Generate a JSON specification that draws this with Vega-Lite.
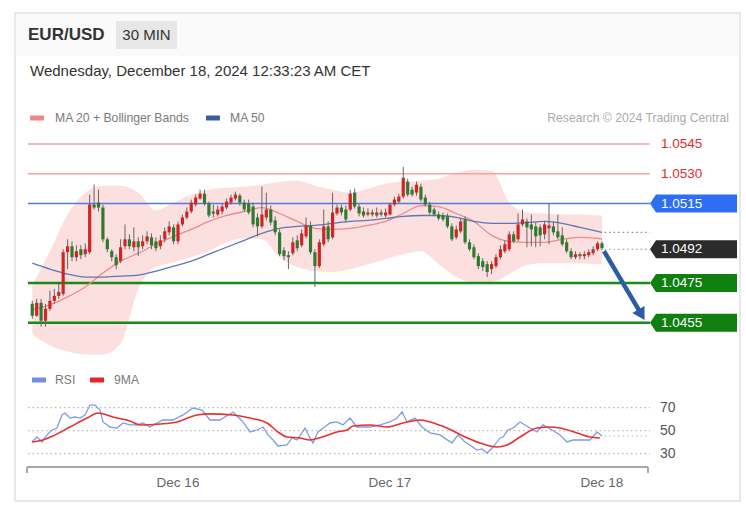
{
"$schema": "https://vega.github.io/schema/vega-lite/v6.json",
"width": 746, "height": 506,
"autosize": {"type": "fit", "contains": "padding"},
"padding": {"left": 15, "top": 13, "right": 6, "bottom": 5},
"background": "#ffffff",
"config": {"view": {"stroke": "#e1e1e1", "strokeWidth": 1.5}, "font": "Liberation Sans", "text": {"font": "Liberation Sans"}, "axis": {"grid": false}, "scale": {"continuousPadding": 0}},
"datasets": {
"candles": [
{"t":-16.5,"o":1.04645,"h":1.0466,"l":1.0457,"c":1.04585},
{"t":-16,"o":1.04585,"h":1.0467,"l":1.0458,"c":1.0465},
{"t":-15.5,"o":1.0465,"h":1.0467,"l":1.0453,"c":1.0456},
{"t":-15,"o":1.0456,"h":1.04645,"l":1.0453,"c":1.0462},
{"t":-14.5,"o":1.0462,"h":1.0471,"l":1.0461,"c":1.0466},
{"t":-14,"o":1.0466,"h":1.0472,"l":1.04645,"c":1.04685},
{"t":-13.5,"o":1.04685,"h":1.04745,"l":1.0467,"c":1.04705},
{"t":-13,"o":1.04695,"h":1.0492,"l":1.04685,"c":1.04905},
{"t":-12.5,"o":1.04905,"h":1.0497,"l":1.0482,"c":1.04935},
{"t":-12,"o":1.04935,"h":1.0496,"l":1.0486,"c":1.0488},
{"t":-11.5,"o":1.0488,"h":1.0494,"l":1.0486,"c":1.0491},
{"t":-11,"o":1.0492,"h":1.0494,"l":1.0487,"c":1.0489},
{"t":-10.5,"o":1.04895,"h":1.0495,"l":1.0488,"c":1.0492},
{"t":-10,"o":1.04905,"h":1.05195,"l":1.04895,"c":1.05145},
{"t":-9.5,"o":1.05145,"h":1.05245,"l":1.0512,"c":1.0513},
{"t":-9,"o":1.05155,"h":1.0522,"l":1.0511,"c":1.0513},
{"t":-8.5,"o":1.0513,"h":1.05145,"l":1.04955,"c":1.0497},
{"t":-8,"o":1.0497,"h":1.0498,"l":1.04905,"c":1.0492},
{"t":-7.5,"o":1.0491,"h":1.0492,"l":1.0486,"c":1.0488},
{"t":-7,"o":1.0488,"h":1.04895,"l":1.0482,"c":1.0484},
{"t":-6.5,"o":1.0486,"h":1.0497,"l":1.0485,"c":1.0493},
{"t":-6,"o":1.04935,"h":1.05045,"l":1.0492,"c":1.0497},
{"t":-5.5,"o":1.0497,"h":1.04995,"l":1.0492,"c":1.04935},
{"t":-5,"o":1.0493,"h":1.0503,"l":1.0491,"c":1.0496},
{"t":-4.5,"o":1.0496,"h":1.0498,"l":1.04885,"c":1.0493},
{"t":-4,"o":1.04935,"h":1.0499,"l":1.0492,"c":1.0496},
{"t":-3.5,"o":1.0496,"h":1.0501,"l":1.04945,"c":1.04985},
{"t":-3,"o":1.0498,"h":1.05,"l":1.0492,"c":1.0494},
{"t":-2.5,"o":1.0496,"h":1.0498,"l":1.0491,"c":1.04925},
{"t":-2,"o":1.04935,"h":1.0499,"l":1.0492,"c":1.04965},
{"t":-1.5,"o":1.0497,"h":1.0503,"l":1.04955,"c":1.0501},
{"t":-1,"o":1.05005,"h":1.0506,"l":1.0499,"c":1.05035},
{"t":-0.5,"o":1.0503,"h":1.05045,"l":1.04945,"c":1.0496},
{"t":0,"o":1.0496,"h":1.0506,"l":1.04945,"c":1.05045},
{"t":0.5,"o":1.05045,"h":1.05095,"l":1.05035,"c":1.0508},
{"t":1,"o":1.0508,"h":1.0513,"l":1.0507,"c":1.0511},
{"t":1.5,"o":1.0511,"h":1.0517,"l":1.051,"c":1.05155},
{"t":2,"o":1.05145,"h":1.05195,"l":1.05135,"c":1.0518},
{"t":2.5,"o":1.05175,"h":1.0522,"l":1.0517,"c":1.052},
{"t":3,"o":1.052,"h":1.0522,"l":1.0514,"c":1.0515},
{"t":3.5,"o":1.0515,"h":1.0516,"l":1.0508,"c":1.0509},
{"t":4,"o":1.0511,"h":1.05145,"l":1.0508,"c":1.051},
{"t":4.5,"o":1.05095,"h":1.0514,"l":1.05085,"c":1.0512},
{"t":5,"o":1.0511,"h":1.0515,"l":1.05095,"c":1.05135},
{"t":5.5,"o":1.0513,"h":1.05175,"l":1.0512,"c":1.0516},
{"t":6,"o":1.05155,"h":1.05195,"l":1.05145,"c":1.0518},
{"t":6.5,"o":1.05175,"h":1.0521,"l":1.05165,"c":1.05195},
{"t":7,"o":1.0519,"h":1.052,"l":1.0514,"c":1.05155},
{"t":7.5,"o":1.05155,"h":1.0517,"l":1.0511,"c":1.0512},
{"t":8,"o":1.0515,"h":1.0517,"l":1.05095,"c":1.05105},
{"t":8.5,"o":1.05135,"h":1.05155,"l":1.0503,"c":1.05045},
{"t":9,"o":1.0508,"h":1.051,"l":1.04985,"c":1.05035},
{"t":9.5,"o":1.05035,"h":1.05235,"l":1.05025,"c":1.05095},
{"t":10,"o":1.0508,"h":1.05205,"l":1.05065,"c":1.0512},
{"t":10.5,"o":1.0512,"h":1.0514,"l":1.0504,"c":1.05055},
{"t":11,"o":1.05065,"h":1.05085,"l":1.0499,"c":1.05005},
{"t":11.5,"o":1.05005,"h":1.0502,"l":1.04885,"c":1.04895},
{"t":12,"o":1.04915,"h":1.0493,"l":1.04865,"c":1.04885},
{"t":12.5,"o":1.0489,"h":1.0491,"l":1.0482,"c":1.0488},
{"t":13,"o":1.049,"h":1.0498,"l":1.0489,"c":1.04955},
{"t":13.5,"o":1.04965,"h":1.0499,"l":1.0491,"c":1.04925},
{"t":14,"o":1.0494,"h":1.0502,"l":1.0493,"c":1.05},
{"t":14.5,"o":1.04985,"h":1.0508,"l":1.04975,"c":1.0504},
{"t":15,"o":1.0504,"h":1.0506,"l":1.04895,"c":1.04905},
{"t":15.5,"o":1.04905,"h":1.0492,"l":1.0473,"c":1.04835},
{"t":16,"o":1.04835,"h":1.0497,"l":1.04825,"c":1.04955},
{"t":16.5,"o":1.04945,"h":1.0512,"l":1.04935,"c":1.05035},
{"t":17,"o":1.05035,"h":1.0506,"l":1.04955,"c":1.0497},
{"t":17.5,"o":1.0498,"h":1.05205,"l":1.0497,"c":1.05105},
{"t":18,"o":1.051,"h":1.05145,"l":1.0509,"c":1.0513},
{"t":18.5,"o":1.0513,"h":1.05145,"l":1.0509,"c":1.05105},
{"t":19,"o":1.0512,"h":1.0514,"l":1.05055,"c":1.0507},
{"t":19.5,"o":1.0512,"h":1.0522,"l":1.0511,"c":1.052},
{"t":20,"o":1.05205,"h":1.05225,"l":1.05125,"c":1.05135},
{"t":20.5,"o":1.05135,"h":1.0515,"l":1.05085,"c":1.051},
{"t":21,"o":1.0511,"h":1.0513,"l":1.0508,"c":1.0509},
{"t":21.5,"o":1.05095,"h":1.05125,"l":1.05085,"c":1.05105},
{"t":22,"o":1.05105,"h":1.0512,"l":1.05085,"c":1.05095},
{"t":22.5,"o":1.0509,"h":1.0513,"l":1.0508,"c":1.05105},
{"t":23,"o":1.05105,"h":1.0512,"l":1.05085,"c":1.05095},
{"t":23.5,"o":1.0509,"h":1.05125,"l":1.0508,"c":1.05105},
{"t":24,"o":1.05095,"h":1.05155,"l":1.0509,"c":1.05145},
{"t":24.5,"o":1.05145,"h":1.05185,"l":1.05135,"c":1.0517},
{"t":25,"o":1.0516,"h":1.052,"l":1.0515,"c":1.05185},
{"t":25.5,"o":1.05185,"h":1.05335,"l":1.05175,"c":1.0528},
{"t":26,"o":1.0526,"h":1.05275,"l":1.05185,"c":1.05195},
{"t":26.5,"o":1.0522,"h":1.05235,"l":1.05185,"c":1.05195},
{"t":27,"o":1.05205,"h":1.0526,"l":1.0519,"c":1.05245},
{"t":27.5,"o":1.05235,"h":1.0525,"l":1.0516,"c":1.0517},
{"t":28,"o":1.0518,"h":1.05195,"l":1.05135,"c":1.05145},
{"t":28.5,"o":1.05145,"h":1.0516,"l":1.05095,"c":1.05105},
{"t":29,"o":1.0512,"h":1.0513,"l":1.05085,"c":1.05095},
{"t":29.5,"o":1.05095,"h":1.0511,"l":1.05065,"c":1.05075},
{"t":30,"o":1.0509,"h":1.05105,"l":1.0506,"c":1.0507},
{"t":30.5,"o":1.05085,"h":1.051,"l":1.05025,"c":1.05035},
{"t":31,"o":1.05035,"h":1.0505,"l":1.0496,"c":1.0497},
{"t":31.5,"o":1.0498,"h":1.0504,"l":1.0497,"c":1.0502},
{"t":32,"o":1.0501,"h":1.05075,"l":1.05,"c":1.0506},
{"t":32.5,"o":1.0507,"h":1.05085,"l":1.04945,"c":1.04955},
{"t":33,"o":1.04955,"h":1.0497,"l":1.0491,"c":1.0492},
{"t":33.5,"o":1.0493,"h":1.04945,"l":1.0487,"c":1.0488},
{"t":34,"o":1.04885,"h":1.049,"l":1.0482,"c":1.04835},
{"t":34.5,"o":1.0486,"h":1.04875,"l":1.0481,"c":1.0483},
{"t":35,"o":1.04845,"h":1.0486,"l":1.0478,"c":1.04805},
{"t":35.5,"o":1.0482,"h":1.0486,"l":1.04795,"c":1.04845},
{"t":36,"o":1.04835,"h":1.04895,"l":1.04825,"c":1.0488},
{"t":36.5,"o":1.0488,"h":1.0494,"l":1.0487,"c":1.0492},
{"t":37,"o":1.0491,"h":1.04965,"l":1.049,"c":1.04945},
{"t":37.5,"o":1.0492,"h":1.0501,"l":1.0491,"c":1.04995},
{"t":38,"o":1.04995,"h":1.0501,"l":1.0495,"c":1.0496},
{"t":38.5,"o":1.0497,"h":1.051,"l":1.0496,"c":1.05045},
{"t":39,"o":1.05045,"h":1.0512,"l":1.05035,"c":1.0507},
{"t":39.5,"o":1.0506,"h":1.05075,"l":1.0493,"c":1.0503},
{"t":40,"o":1.05045,"h":1.05095,"l":1.04935,"c":1.0502},
{"t":40.5,"o":1.05035,"h":1.05055,"l":1.0493,"c":1.04985},
{"t":41,"o":1.0503,"h":1.05045,"l":1.04935,"c":1.0499},
{"t":41.5,"o":1.04995,"h":1.0506,"l":1.0497,"c":1.05045},
{"t":42,"o":1.05025,"h":1.0515,"l":1.04945,"c":1.0504},
{"t":42.5,"o":1.05035,"h":1.0506,"l":1.0499,"c":1.05005},
{"t":43,"o":1.0501,"h":1.05095,"l":1.0497,"c":1.0498},
{"t":43.5,"o":1.0499,"h":1.0503,"l":1.04935,"c":1.04945},
{"t":44,"o":1.04955,"h":1.0497,"l":1.049,"c":1.0491},
{"t":44.5,"o":1.0491,"h":1.04925,"l":1.0487,"c":1.0488},
{"t":45,"o":1.0488,"h":1.0491,"l":1.0487,"c":1.04895},
{"t":45.5,"o":1.04895,"h":1.04905,"l":1.0487,"c":1.04885},
{"t":46,"o":1.04885,"h":1.0491,"l":1.0487,"c":1.04895},
{"t":46.5,"o":1.0489,"h":1.0492,"l":1.0488,"c":1.04905},
{"t":47,"o":1.049,"h":1.04935,"l":1.0489,"c":1.0492},
{"t":47.5,"o":1.0492,"h":1.0496,"l":1.0491,"c":1.0495},
{"t":48,"o":1.0495,"h":1.0496,"l":1.04915,"c":1.04925}
],
"bands": [
{"t":-16.5,"up":1.0474,"lo":1.0449,"m20":1.04615,"m50":1.0485},
{"t":-14.5,"up":1.0491,"lo":1.04435,"m20":1.0464,"m50":1.0482},
{"t":-12.5,"up":1.05095,"lo":1.04405,"m20":1.0468,"m50":1.04795},
{"t":-10.5,"up":1.05205,"lo":1.0439,"m20":1.0473,"m50":1.0478},
{"t":-8.5,"up":1.0524,"lo":1.0439,"m20":1.048,"m50":1.0478},
{"t":-6.5,"up":1.0524,"lo":1.04445,"m20":1.0486,"m50":1.04785},
{"t":-4.5,"up":1.05205,"lo":1.0472,"m20":1.049,"m50":1.0479},
{"t":-2.5,"up":1.05115,"lo":1.0483,"m20":1.04945,"m50":1.0481},
{"t":-0.5,"up":1.05155,"lo":1.04855,"m20":1.04985,"m50":1.04835},
{"t":1.5,"up":1.05195,"lo":1.0488,"m20":1.0502,"m50":1.0486},
{"t":3.5,"up":1.0522,"lo":1.0491,"m20":1.0506,"m50":1.04895},
{"t":5.5,"up":1.0523,"lo":1.04955,"m20":1.0509,"m50":1.0493},
{"t":7.5,"up":1.05235,"lo":1.04975,"m20":1.0511,"m50":1.04965},
{"t":9.5,"up":1.05245,"lo":1.0497,"m20":1.0513,"m50":1.05},
{"t":11.5,"up":1.0526,"lo":1.0488,"m20":1.051,"m50":1.05025},
{"t":13.5,"up":1.05265,"lo":1.0483,"m20":1.0506,"m50":1.05035},
{"t":15.5,"up":1.0524,"lo":1.0481,"m20":1.05025,"m50":1.0504},
{"t":17.5,"up":1.0522,"lo":1.04805,"m20":1.0502,"m50":1.0505},
{"t":19.5,"up":1.05205,"lo":1.0482,"m20":1.05025,"m50":1.0506},
{"t":21.5,"up":1.05225,"lo":1.04845,"m20":1.0504,"m50":1.05065},
{"t":23.5,"up":1.0525,"lo":1.0487,"m20":1.0506,"m50":1.05075},
{"t":25.5,"up":1.0526,"lo":1.04895,"m20":1.051,"m50":1.05085},
{"t":27.5,"up":1.05265,"lo":1.0491,"m20":1.0514,"m50":1.0509},
{"t":29.5,"up":1.05275,"lo":1.04845,"m20":1.05135,"m50":1.0509},
{"t":31.5,"up":1.05305,"lo":1.0478,"m20":1.051,"m50":1.0508},
{"t":33.5,"up":1.0532,"lo":1.04755,"m20":1.0506,"m50":1.0506},
{"t":35.5,"up":1.05315,"lo":1.04755,"m20":1.0499,"m50":1.0505},
{"t":37.5,"up":1.05155,"lo":1.04795,"m20":1.0496,"m50":1.0505},
{"t":39.5,"up":1.05105,"lo":1.0484,"m20":1.04955,"m50":1.05055},
{"t":41.5,"up":1.051,"lo":1.0485,"m20":1.04955,"m50":1.0506},
{"t":43.5,"up":1.05095,"lo":1.0485,"m20":1.0497,"m50":1.0505},
{"t":45.5,"up":1.05095,"lo":1.0485,"m20":1.0498,"m50":1.0503},
{"t":47.5,"up":1.0509,"lo":1.04845,"m20":1.04975,"m50":1.0501},
{"t":48,"up":1.0509,"lo":1.04845,"m20":1.0497,"m50":1.05005}
],
"levels": [
{"level":1.0545,"label":"1.0545","role":"resistance"},
{"level":1.053,"label":"1.0530","role":"resistance"},
{"level":1.0515,"label":"1.0515","role":"pivot"},
{"level":1.0492,"label":"1.0492","role":"last"},
{"level":1.0475,"label":"1.0475","role":"support"},
{"level":1.0455,"label":"1.0455","role":"support"}
],
"rsi": [
{"t":-16.53,"v":40.2},{"t":-15.96,"v":44.5},{"t":-15.4,"v":40.2},{"t":-14.83,"v":46.3},{"t":-14.27,"v":50.6},
{"t":-13.7,"v":52.3},{"t":-13.13,"v":63.7},{"t":-12.79,"v":65.4},{"t":-12.23,"v":61.0},{"t":-11.66,"v":61.9},
{"t":-11.09,"v":61.0},{"t":-10.53,"v":63.7},{"t":-9.96,"v":72.3},{"t":-9.4,"v":72.3},{"t":-8.83,"v":68.0},
{"t":-8.49,"v":57.6},{"t":-7.7,"v":53.2},{"t":-6.91,"v":52.3},{"t":-6.23,"v":56.7},{"t":-5.43,"v":55.0},
{"t":-4.64,"v":55.0},{"t":-3.96,"v":56.7},{"t":-3.17,"v":53.2},{"t":-2.38,"v":56.7},{"t":-1.7,"v":59.3},
{"t":-0.57,"v":59.3},{"t":0.57,"v":63.7},{"t":1.7,"v":69.7},{"t":2.72,"v":68.0},{"t":3.62,"v":59.3},
{"t":4.75,"v":59.3},{"t":6.23,"v":66.3},{"t":7.36,"v":57.6},{"t":8.15,"v":48.9},{"t":8.94,"v":50.6},
{"t":9.62,"v":53.2},{"t":10.19,"v":46.3},{"t":10.76,"v":41.9},{"t":11.32,"v":36.7},{"t":12.34,"v":37.6},
{"t":12.91,"v":43.7},{"t":13.47,"v":41.9},{"t":14.38,"v":52.3},{"t":14.94,"v":43.7},{"t":15.28,"v":39.3},
{"t":15.85,"v":48.9},{"t":16.42,"v":52.3},{"t":17.21,"v":56.7},{"t":18.0,"v":57.6},{"t":18.68,"v":55.0},
{"t":19.47,"v":61.0},{"t":20.26,"v":53.2},{"t":21.74,"v":53.2},{"t":22.87,"v":55.0},{"t":24.0,"v":57.6},
{"t":24.79,"v":61.0},{"t":25.36,"v":66.3},{"t":25.93,"v":57.6},{"t":26.83,"v":61.0},{"t":27.62,"v":53.2},
{"t":28.53,"v":48.0},{"t":29.66,"v":46.3},{"t":31.02,"v":39.3},{"t":31.7,"v":46.3},{"t":32.49,"v":40.2},
{"t":33.06,"v":37.6},{"t":33.85,"v":33.2},{"t":34.42,"v":34.1},{"t":34.98,"v":30.6},{"t":35.66,"v":35.8},
{"t":36.45,"v":43.7},{"t":36.79,"v":44.5},{"t":37.36,"v":50.6},{"t":37.93,"v":52.3},{"t":38.72,"v":57.6},
{"t":39.28,"v":55.0},{"t":39.85,"v":52.3},{"t":40.64,"v":48.9},{"t":41.32,"v":55.0},{"t":42.34,"v":50.6},
{"t":43.25,"v":46.3},{"t":44.04,"v":40.2},{"t":44.72,"v":41.9},{"t":45.85,"v":41.9},{"t":46.64,"v":41.9},
{"t":47.43,"v":48.9},{"t":48.0,"v":45.4}
],
"ma9": [
{"t":-16.53,"v":40.2},{"t":-15.28,"v":41.9},{"t":-14.15,"v":45.4},{"t":-12.23,"v":53.2},{"t":-10.3,"v":61.0},
{"t":-9.06,"v":65.4},{"t":-7.36,"v":61.9},{"t":-5.43,"v":58.4},{"t":-4.3,"v":55.0},{"t":-2.04,"v":55.8},
{"t":-0.11,"v":57.6},{"t":2.15,"v":63.7},{"t":3.62,"v":64.6},{"t":6.23,"v":63.7},{"t":8.15,"v":61.0},
{"t":10.08,"v":56.7},{"t":11.32,"v":48.9},{"t":12.34,"v":44.5},{"t":13.81,"v":43.7},{"t":14.94,"v":41.9},
{"t":16.3,"v":44.5},{"t":18.0,"v":48.9},{"t":19.13,"v":50.6},{"t":19.81,"v":54.1},{"t":21.74,"v":55.0},
{"t":23.66,"v":53.2},{"t":25.47,"v":56.7},{"t":27.4,"v":59.3},{"t":28.53,"v":57.6},{"t":30.45,"v":52.3},
{"t":32.26,"v":45.4},{"t":34.19,"v":39.3},{"t":36.11,"v":35.8},{"t":37.25,"v":37.6},{"t":38.72,"v":44.5},
{"t":40.64,"v":52.3},{"t":42.11,"v":53.2},{"t":43.25,"v":52.3},{"t":45.17,"v":48.0},{"t":46.64,"v":44.5},
{"t":47.77,"v":43.7}
],
"rsiLevels": [{"r":70},{"r":50},{"r":30}],
"days": [{"t":0,"d":"Dec 16"},{"t":24,"d":"Dec 17"},{"t":48,"d":"Dec 18"}]
},
"resolve": {"scale": {"y": "independent"}},
"layer": [
{
"layer": [
{"data": {"values": [{}]}, "mark": {"type": "rect", "color": "#fafafa"},
 "encoding": {"x": {"datum": -18.35, "type": "quantitative", "scale": {"domain": [-18.453, 63.623], "nice": false, "zero": false, "padding": 0}, "axis": null}, "x2": {"datum": 63.52},
  "y": {"datum": 1.06105, "type": "quantitative", "scale": {"domain": [1.036521, 1.061097], "nice": false, "zero": false}, "axis": null}, "y2": {"datum": 1.05893}}},
{"data": {"values": [{}]}, "mark": {"type": "text", "align": "left", "baseline": "middle", "fontSize": 17, "fontWeight": "bold", "color": "#333333"},
 "encoding": {"x": {"datum": -16.98, "type": "quantitative", "scale": {"domain": [-18.453, 63.623], "nice": false, "zero": false, "padding": 0}, "axis": null},
  "y": {"datum": 1.05999, "type": "quantitative", "scale": {"domain": [1.036521, 1.061097], "nice": false, "zero": false}, "axis": null}, "text": {"value": "EUR/USD"}}},
{"data": {"values": [{}]}, "mark": {"type": "rect", "color": "#e7e7e7"},
 "encoding": {"x": {"datum": -7.02, "type": "quantitative", "scale": {"domain": [-18.453, 63.623], "nice": false, "zero": false, "padding": 0}, "axis": null}, "x2": {"datum": -0.11},
  "y": {"datum": 1.060694, "type": "quantitative", "scale": {"domain": [1.036521, 1.061097], "nice": false, "zero": false}, "axis": null}, "y2": {"datum": 1.059284}}},
{"data": {"values": [{}]}, "mark": {"type": "text", "align": "center", "baseline": "middle", "fontSize": 15, "color": "#333333"},
 "encoding": {"x": {"datum": -3.57, "type": "quantitative", "scale": {"domain": [-18.453, 63.623], "nice": false, "zero": false, "padding": 0}, "axis": null},
  "y": {"datum": 1.05999, "type": "quantitative", "scale": {"domain": [1.036521, 1.061097], "nice": false, "zero": false}, "axis": null}, "text": {"value": "30 MIN"}}},
{"data": {"values": [{}]}, "mark": {"type": "text", "align": "left", "baseline": "middle", "fontSize": 15, "color": "#333333"},
 "encoding": {"x": {"datum": -16.75, "type": "quantitative", "scale": {"domain": [-18.453, 63.623], "nice": false, "zero": false, "padding": 0}, "axis": null},
  "y": {"datum": 1.058176, "type": "quantitative", "scale": {"domain": [1.036521, 1.061097], "nice": false, "zero": false}, "axis": null}, "text": {"value": "Wednesday, December 18, 2024 12:33:23 AM CET"}}},
{"data": {"values": [{}]}, "mark": {"type": "rule", "color": "#f28585", "strokeWidth": 5},
 "encoding": {"x": {"datum": -16.75, "type": "quantitative", "scale": {"domain": [-18.453, 63.623], "nice": false, "zero": false, "padding": 0}, "axis": null}, "x2": {"datum": -15.17},
  "y": {"datum": 1.055809, "type": "quantitative", "scale": {"domain": [1.036521, 1.061097], "nice": false, "zero": false}, "axis": null}}},
{"data": {"values": [{}]}, "mark": {"type": "text", "align": "left", "baseline": "middle", "fontSize": 12.2, "color": "#7a7a7a"},
 "encoding": {"x": {"datum": -13.92, "type": "quantitative", "scale": {"domain": [-18.453, 63.623], "nice": false, "zero": false, "padding": 0}, "axis": null},
  "y": {"datum": 1.055809, "type": "quantitative", "scale": {"domain": [1.036521, 1.061097], "nice": false, "zero": false}, "axis": null}, "text": {"value": "MA 20 + Bollinger Bands"}}},
{"data": {"values": [{}]}, "mark": {"type": "rule", "color": "#3a5da3", "strokeWidth": 5},
 "encoding": {"x": {"datum": 3.17, "type": "quantitative", "scale": {"domain": [-18.453, 63.623], "nice": false, "zero": false, "padding": 0}, "axis": null}, "x2": {"datum": 4.75},
  "y": {"datum": 1.055809, "type": "quantitative", "scale": {"domain": [1.036521, 1.061097], "nice": false, "zero": false}, "axis": null}}},
{"data": {"values": [{}]}, "mark": {"type": "text", "align": "left", "baseline": "middle", "fontSize": 12.2, "color": "#7a7a7a"},
 "encoding": {"x": {"datum": 5.89, "type": "quantitative", "scale": {"domain": [-18.453, 63.623], "nice": false, "zero": false, "padding": 0}, "axis": null},
  "y": {"datum": 1.055809, "type": "quantitative", "scale": {"domain": [1.036521, 1.061097], "nice": false, "zero": false}, "axis": null}, "text": {"value": "MA 50"}}},
{"data": {"values": [{}]}, "mark": {"type": "text", "align": "right", "baseline": "middle", "fontSize": 12.2, "color": "#ababab"},
 "encoding": {"x": {"datum": 62.38, "type": "quantitative", "scale": {"domain": [-18.453, 63.623], "nice": false, "zero": false, "padding": 0}, "axis": null},
  "y": {"datum": 1.055809, "type": "quantitative", "scale": {"domain": [1.036521, 1.061097], "nice": false, "zero": false}, "axis": null}, "text": {"value": "Research © 2024 Trading Central"}}},
{"data": {"name": "bands"}, "mark": {"type": "area", "interpolate": "monotone", "color": "#fcd9d9", "opacity": 0.85},
 "encoding": {"x": {"field": "t", "type": "quantitative", "scale": {"domain": [-18.453, 63.623], "nice": false, "zero": false, "padding": 0}, "axis": null},
  "y": {"field": "up", "type": "quantitative", "scale": {"domain": [1.036521, 1.061097], "nice": false, "zero": false}, "axis": null}, "y2": {"field": "lo"}}},
{"data": {"name": "levels"}, "transform": [{"filter": "datum.role == 'resistance'"}], "mark": {"type": "rule", "color": "#f5a3a3", "strokeWidth": 1.5},
 "encoding": {"x": {"datum": -16.98, "type": "quantitative", "scale": {"domain": [-18.453, 63.623], "nice": false, "zero": false, "padding": 0}, "axis": null}, "x2": {"datum": 53.43},
  "y": {"field": "level", "type": "quantitative", "scale": {"domain": [1.036521, 1.061097], "nice": false, "zero": false}, "axis": null}}},
{"data": {"name": "levels"}, "transform": [{"filter": "datum.role == 'pivot'"}], "mark": {"type": "rule", "color": "#4d7de6", "strokeWidth": 1.5},
 "encoding": {"x": {"datum": -16.98, "type": "quantitative", "scale": {"domain": [-18.453, 63.623], "nice": false, "zero": false, "padding": 0}, "axis": null}, "x2": {"datum": 53.43},
  "y": {"field": "level", "type": "quantitative", "scale": {"domain": [1.036521, 1.061097], "nice": false, "zero": false}, "axis": null}}},
{"data": {"name": "levels"}, "transform": [{"filter": "datum.role == 'support'"}], "mark": {"type": "rule", "color": "#178a17", "strokeWidth": 2.5},
 "encoding": {"x": {"datum": -16.98, "type": "quantitative", "scale": {"domain": [-18.453, 63.623], "nice": false, "zero": false, "padding": 0}, "axis": null}, "x2": {"datum": 53.43},
  "y": {"field": "level", "type": "quantitative", "scale": {"domain": [1.036521, 1.061097], "nice": false, "zero": false}, "axis": null}}},
{"data": {"name": "levels"}, "transform": [{"filter": "datum.role == 'last'"}], "mark": {"type": "rule", "color": "#8a8a8a", "strokeWidth": 1.2, "strokeDash": [1.5, 3]},
 "encoding": {"x": {"datum": 48.3, "type": "quantitative", "scale": {"domain": [-18.453, 63.623], "nice": false, "zero": false, "padding": 0}, "axis": null}, "x2": {"datum": 53.43},
  "y": {"field": "level", "type": "quantitative", "scale": {"domain": [1.036521, 1.061097], "nice": false, "zero": false}, "axis": null}}},
{"data": {"values": [{}]}, "mark": {"type": "rule", "color": "#8a8a8a", "strokeWidth": 1.2, "strokeDash": [1.5, 3]},
 "encoding": {"x": {"datum": 48.3, "type": "quantitative", "scale": {"domain": [-18.453, 63.623], "nice": false, "zero": false, "padding": 0}, "axis": null}, "x2": {"datum": 53.43},
  "y": {"datum": 1.05005, "type": "quantitative", "scale": {"domain": [1.036521, 1.061097], "nice": false, "zero": false}, "axis": null}}},
{"data": {"name": "bands"}, "mark": {"type": "line", "interpolate": "monotone", "color": "#f08a8a", "strokeWidth": 1.3},
 "encoding": {"x": {"field": "t", "type": "quantitative", "scale": {"domain": [-18.453, 63.623], "nice": false, "zero": false, "padding": 0}, "axis": null},
  "y": {"field": "m20", "type": "quantitative", "scale": {"domain": [1.036521, 1.061097], "nice": false, "zero": false}, "axis": null}}},
{"data": {"name": "bands"}, "mark": {"type": "line", "interpolate": "monotone", "color": "#5b78b5", "strokeWidth": 1.3},
 "encoding": {"x": {"field": "t", "type": "quantitative", "scale": {"domain": [-18.453, 63.623], "nice": false, "zero": false, "padding": 0}, "axis": null},
  "y": {"field": "m50", "type": "quantitative", "scale": {"domain": [1.036521, 1.061097], "nice": false, "zero": false}, "axis": null}}},
{"data": {"name": "candles"}, "mark": {"type": "rule", "color": "#666666", "strokeWidth": 1},
 "encoding": {"x": {"field": "t", "type": "quantitative", "scale": {"domain": [-18.453, 63.623], "nice": false, "zero": false, "padding": 0}, "axis": null},
  "y": {"field": "l", "type": "quantitative", "scale": {"domain": [1.036521, 1.061097], "nice": false, "zero": false}, "axis": null}, "y2": {"field": "h"}}},
{"data": {"name": "candles"}, "mark": {"type": "bar", "width": 3.2},
 "encoding": {"x": {"field": "t", "type": "quantitative", "scale": {"domain": [-18.453, 63.623], "nice": false, "zero": false, "padding": 0}, "axis": null},
  "y": {"field": "o", "type": "quantitative", "scale": {"domain": [1.036521, 1.061097], "nice": false, "zero": false}, "axis": null}, "y2": {"field": "c"},
  "color": {"condition": {"test": "datum.c >= datum.o", "value": "#d22424"}, "value": "#2e7b30"}}},
{"data": {"name": "levels"}, "transform": [{"filter": "datum.role != 'resistance'"}],
 "mark": {"type": "point", "shape": "M-1,0L-0.862,-0.207L1,-0.207L1,0.207L-0.862,0.207Z", "size": 7569, "filled": true, "opacity": 1, "strokeWidth": 0},
 "encoding": {"x": {"datum": 58.36, "type": "quantitative", "scale": {"domain": [-18.453, 63.623], "nice": false, "zero": false, "padding": 0}, "axis": null},
  "y": {"field": "level", "type": "quantitative", "scale": {"domain": [1.036521, 1.061097], "nice": false, "zero": false}, "axis": null},
  "color": {"field": "role", "type": "nominal", "scale": {"domain": ["pivot", "last", "support"], "range": ["#2e6ef5", "#2b2b2b", "#0f7f0f"]}, "legend": null}}},
{"data": {"name": "levels"}, "transform": [{"filter": "datum.role != 'resistance'"}],
 "mark": {"type": "text", "align": "left", "baseline": "middle", "fontSize": 13.5, "color": "#ffffff"},
 "encoding": {"x": {"datum": 54.68, "type": "quantitative", "scale": {"domain": [-18.453, 63.623], "nice": false, "zero": false, "padding": 0}, "axis": null},
  "y": {"field": "level", "type": "quantitative", "scale": {"domain": [1.036521, 1.061097], "nice": false, "zero": false}, "axis": null}, "text": {"field": "label"}}},
{"data": {"name": "levels"}, "transform": [{"filter": "datum.role == 'resistance'"}],
 "mark": {"type": "text", "align": "left", "baseline": "middle", "fontSize": 13.5, "color": "#e52a2a"},
 "encoding": {"x": {"datum": 54.68, "type": "quantitative", "scale": {"domain": [-18.453, 63.623], "nice": false, "zero": false, "padding": 0}, "axis": null},
  "y": {"field": "level", "type": "quantitative", "scale": {"domain": [1.036521, 1.061097], "nice": false, "zero": false}, "axis": null}, "text": {"field": "label"}}},
{"data": {"values": [{}]}, "mark": {"type": "rule", "color": "#2d5ca5", "strokeWidth": 4.5},
 "encoding": {"x": {"datum": 48.23, "type": "quantitative", "scale": {"domain": [-18.453, 63.623], "nice": false, "zero": false, "padding": 0}, "axis": null}, "x2": {"datum": 52.3},
  "y": {"datum": 1.0491, "type": "quantitative", "scale": {"domain": [1.036521, 1.061097], "nice": false, "zero": false}, "axis": null}, "y2": {"datum": 1.04605}}},
{"data": {"values": [{}]}, "mark": {"type": "point", "shape": "triangle-down", "size": 200, "filled": true, "opacity": 1, "color": "#2d5ca5", "angle": 329.5},
 "encoding": {"x": {"datum": 52.47, "type": "quantitative", "scale": {"domain": [-18.453, 63.623], "nice": false, "zero": false, "padding": 0}, "axis": null},
  "y": {"datum": 1.0459, "type": "quantitative", "scale": {"domain": [1.036521, 1.061097], "nice": false, "zero": false}, "axis": null}}}
]
},
{
"layer": [
{"data": {"name": "rsiLevels"}, "mark": {"type": "rule", "color": "#b8b8b8", "strokeWidth": 1.2, "strokeDash": [1.5, 3]},
 "encoding": {"x": {"datum": -16.98, "type": "quantitative", "scale": {"domain": [-18.453, 63.623], "nice": false, "zero": false, "padding": 0}, "axis": null}, "x2": {"datum": 53.43},
  "y": {"field": "r", "type": "quantitative", "scale": {"domain": [-11.13, 413.2], "nice": false, "zero": false}, "axis": null}}},
{"data": {"name": "rsiLevels"}, "mark": {"type": "text", "align": "left", "baseline": "middle", "fontSize": 14, "color": "#555555"},
 "encoding": {"x": {"datum": 54.57, "type": "quantitative", "scale": {"domain": [-18.453, 63.623], "nice": false, "zero": false, "padding": 0}, "axis": null},
  "y": {"field": "r", "type": "quantitative", "scale": {"domain": [-11.13, 413.2], "nice": false, "zero": false}, "axis": null}, "text": {"field": "r"}}},
{"data": {"values": [{}]}, "mark": {"type": "rule", "color": "#9db2e8", "strokeWidth": 1.2, "strokeDash": [1.5, 3]},
 "encoding": {"x": {"datum": 48.3, "type": "quantitative", "scale": {"domain": [-18.453, 63.623], "nice": false, "zero": false, "padding": 0}, "axis": null}, "x2": {"datum": 53.43},
  "y": {"datum": 45.4, "type": "quantitative", "scale": {"domain": [-11.13, 413.2], "nice": false, "zero": false}, "axis": null}}},
{"data": {"name": "rsi"}, "mark": {"type": "line", "color": "#7f9be3", "strokeWidth": 1.3},
 "encoding": {"x": {"field": "t", "type": "quantitative", "scale": {"domain": [-18.453, 63.623], "nice": false, "zero": false, "padding": 0}, "axis": null},
  "y": {"field": "v", "type": "quantitative", "scale": {"domain": [-11.13, 413.2], "nice": false, "zero": false}, "axis": null}}},
{"data": {"name": "ma9"}, "mark": {"type": "line", "interpolate": "monotone", "color": "#e8302e", "strokeWidth": 1.6},
 "encoding": {"x": {"field": "t", "type": "quantitative", "scale": {"domain": [-18.453, 63.623], "nice": false, "zero": false, "padding": 0}, "axis": null},
  "y": {"field": "v", "type": "quantitative", "scale": {"domain": [-11.13, 413.2], "nice": false, "zero": false}, "axis": null}}},
{"data": {"values": [{}]}, "mark": {"type": "rule", "color": "#6f8fe0", "strokeWidth": 5},
 "encoding": {"x": {"datum": -16.53, "type": "quantitative", "scale": {"domain": [-18.453, 63.623], "nice": false, "zero": false, "padding": 0}, "axis": null}, "x2": {"datum": -14.94},
  "y": {"datum": 94.09, "type": "quantitative", "scale": {"domain": [-11.13, 413.2], "nice": false, "zero": false}, "axis": null}}},
{"data": {"values": [{}]}, "mark": {"type": "text", "align": "left", "baseline": "middle", "fontSize": 12.2, "color": "#7a7a7a"},
 "encoding": {"x": {"datum": -13.92, "type": "quantitative", "scale": {"domain": [-18.453, 63.623], "nice": false, "zero": false, "padding": 0}, "axis": null},
  "y": {"datum": 94.09, "type": "quantitative", "scale": {"domain": [-11.13, 413.2], "nice": false, "zero": false}, "axis": null}, "text": {"value": "RSI"}}},
{"data": {"values": [{}]}, "mark": {"type": "rule", "color": "#e8242b", "strokeWidth": 5},
 "encoding": {"x": {"datum": -9.96, "type": "quantitative", "scale": {"domain": [-18.453, 63.623], "nice": false, "zero": false, "padding": 0}, "axis": null}, "x2": {"datum": -8.38},
  "y": {"datum": 94.09, "type": "quantitative", "scale": {"domain": [-11.13, 413.2], "nice": false, "zero": false}, "axis": null}}},
{"data": {"values": [{}]}, "mark": {"type": "text", "align": "left", "baseline": "middle", "fontSize": 12.2, "color": "#7a7a7a"},
 "encoding": {"x": {"datum": -7.25, "type": "quantitative", "scale": {"domain": [-18.453, 63.623], "nice": false, "zero": false, "padding": 0}, "axis": null},
  "y": {"datum": 94.09, "type": "quantitative", "scale": {"domain": [-11.13, 413.2], "nice": false, "zero": false}, "axis": null}, "text": {"value": "9MA"}}},
{"data": {"values": [{}]}, "mark": {"type": "rule", "color": "#a8a8a8", "strokeWidth": 2},
 "encoding": {"x": {"datum": -17.09, "type": "quantitative", "scale": {"domain": [-18.453, 63.623], "nice": false, "zero": false, "padding": 0}, "axis": null}, "x2": {"datum": 53.21},
  "y": {"datum": 18.43, "type": "quantitative", "scale": {"domain": [-11.13, 413.2], "nice": false, "zero": false}, "axis": null}}},
{"data": {"values": [{"t": -17.09}, {"t": 53.21}]}, "mark": {"type": "rule", "color": "#a8a8a8", "strokeWidth": 2},
 "encoding": {"x": {"field": "t", "type": "quantitative", "scale": {"domain": [-18.453, 63.623], "nice": false, "zero": false, "padding": 0}, "axis": null},
  "y": {"datum": 18.43, "type": "quantitative", "scale": {"domain": [-11.13, 413.2], "nice": false, "zero": false}, "axis": null}, "y2": {"datum": 13.22}}},
{"data": {"name": "days"}, "mark": {"type": "text", "align": "center", "baseline": "middle", "fontSize": 13.5, "color": "#666666"},
 "encoding": {"x": {"field": "t", "type": "quantitative", "scale": {"domain": [-18.453, 63.623], "nice": false, "zero": false, "padding": 0}, "axis": null},
  "y": {"datum": 4.52, "type": "quantitative", "scale": {"domain": [-11.13, 413.2], "nice": false, "zero": false}, "axis": null}, "text": {"field": "d"}}}
]
}
]
}
